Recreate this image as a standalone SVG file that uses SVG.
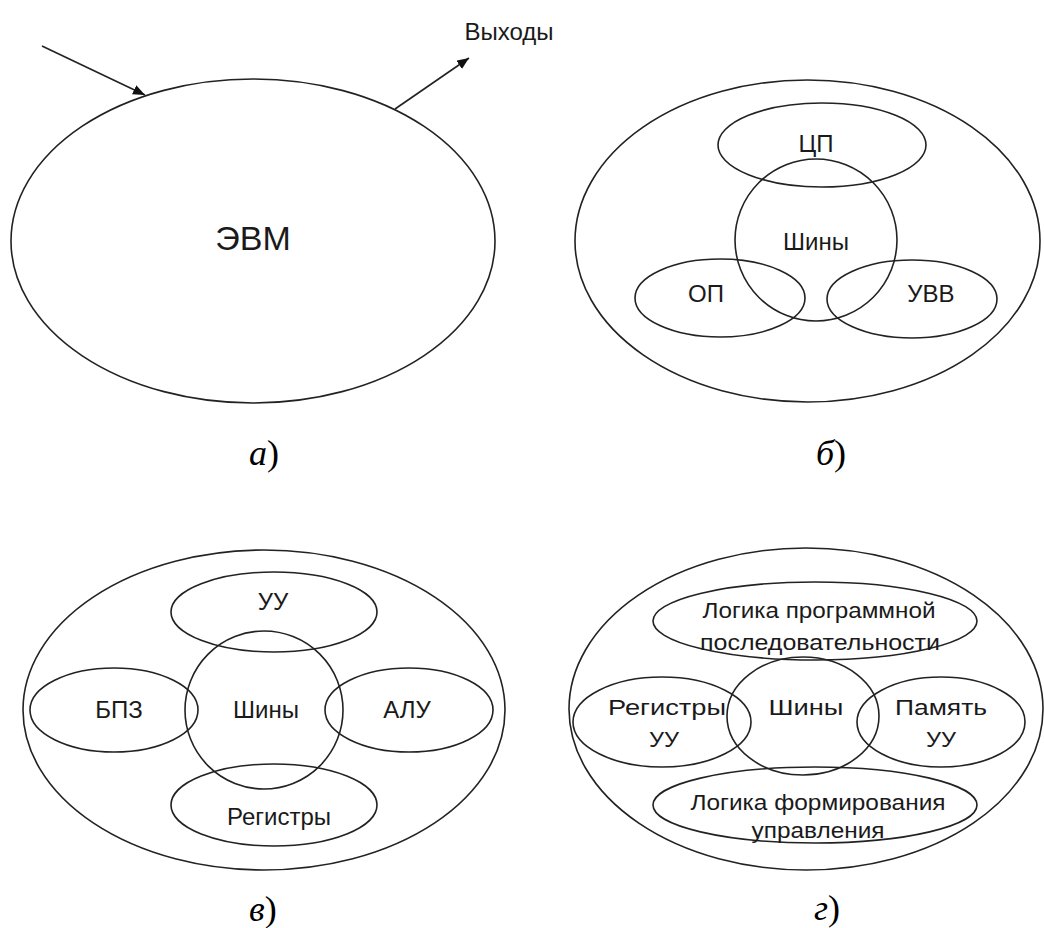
<svg xmlns="http://www.w3.org/2000/svg" width="1044" height="928" viewBox="0 0 1044 928">
<defs>
<style>
.sh{fill:none;stroke:#222;stroke-width:1.6}
.t{font-family:"Liberation Sans",Arial,sans-serif;font-size:24px;fill:#1a1a1a;text-anchor:middle}
.big{font-size:34px}
.s{font-size:22px}
.lbl{font-family:"Liberation Serif","Times New Roman",serif;font-size:36px;fill:#000}
.ln{stroke:#222;stroke-width:1.6;fill:none}
</style>
<marker id="ah" viewBox="0 0 12 10" refX="12" refY="5" markerWidth="12" markerHeight="10" markerUnits="userSpaceOnUse" orient="auto">
<path d="M0,0 L12,5 L0,10 z" fill="#111"/>
</marker>
</defs>
<rect width="1044" height="928" fill="#fff"/>

<g id="panel-a">
<g id="evm"><ellipse class="sh" cx="253" cy="241" rx="242" ry="162"/><text class="t big" x="253" y="250">ЭВМ</text></g>
<g id="outputs-label"><text class="t" x="509" y="40">Выходы</text></g>
<text class="lbl" x="249" y="465"><tspan font-style="italic">а</tspan>)</text>
</g>

<g id="connectors">
<line class="ln" x1="42" y1="46" x2="145" y2="95" marker-end="url(#ah)"/>
<line class="ln" x1="395" y1="109" x2="469" y2="58" marker-end="url(#ah)"/>
</g>

<g id="panel-b">
<g id="b-outer"><ellipse class="sh" cx="807.5" cy="241" rx="232.5" ry="161"/></g>
<g id="b-cp"><ellipse class="sh" cx="822" cy="145" rx="104" ry="42"/><text class="t" x="816" y="152">ЦП</text></g>
<g id="b-bus"><circle class="sh" cx="816" cy="240" r="81"/><text class="t" x="816" y="250">Шины</text></g>
<g id="b-op"><ellipse class="sh" cx="720" cy="298" rx="85" ry="39"/><text class="t" x="706" y="302">ОП</text></g>
<g id="b-uvv"><ellipse class="sh" cx="912" cy="299" rx="85" ry="39"/><text class="t" x="931" y="302">УВВ</text></g>
<text class="lbl" x="816" y="465"><tspan font-style="italic">б</tspan>)</text>
</g>

<g id="panel-v">
<g id="v-outer"><ellipse class="sh" cx="264" cy="710" rx="241" ry="160"/></g>
<g id="v-uu"><ellipse class="sh" cx="274" cy="612" rx="103" ry="40"/><text class="t" x="273" y="610">УУ</text></g>
<g id="v-bus"><circle class="sh" cx="264" cy="710" r="79"/><text class="t" x="266" y="718">Шины</text></g>
<g id="v-bpz"><ellipse class="sh" cx="114" cy="710" rx="84" ry="42"/><text class="t" x="119" y="718">БПЗ</text></g>
<g id="v-alu"><ellipse class="sh" cx="409" cy="710" rx="84" ry="42"/><text class="t" x="407" y="718">АЛУ</text></g>
<g id="v-reg"><ellipse class="sh" cx="274" cy="805" rx="103" ry="41"/><text class="t" x="279" y="825">Регистры</text></g>
<text class="lbl" x="249" y="921"><tspan font-style="italic">в</tspan>)</text>
</g>

<g id="panel-g">
<g id="g-outer"><ellipse class="sh" cx="806" cy="709" rx="237" ry="161"/></g>
<g id="g-top"><ellipse class="sh" cx="815" cy="621" rx="162" ry="39"/><text class="t s" x="819" y="618" textLength="233" lengthAdjust="spacingAndGlyphs">Логика программной</text><text class="t s" x="820" y="650" textLength="240" lengthAdjust="spacingAndGlyphs">последовательности</text></g>
<g id="g-bus"><ellipse class="sh" cx="803" cy="716" rx="76" ry="59"/><text class="t s" x="806" y="715" textLength="75" lengthAdjust="spacingAndGlyphs">Шины</text></g>
<g id="g-reg"><ellipse class="sh" cx="662" cy="722" rx="89" ry="45"/><text class="t s" x="667" y="715" textLength="118" lengthAdjust="spacingAndGlyphs">Регистры</text><text class="t s" x="664" y="747" textLength="30" lengthAdjust="spacingAndGlyphs">УУ</text></g>
<g id="g-mem"><ellipse class="sh" cx="941" cy="722" rx="84" ry="45"/><text class="t s" x="941" y="715" textLength="92" lengthAdjust="spacingAndGlyphs">Память</text><text class="t s" x="941" y="747" textLength="30" lengthAdjust="spacingAndGlyphs">УУ</text></g>
<g id="g-bottom"><ellipse class="sh" cx="815" cy="805" rx="162" ry="38"/><text class="t s" x="818" y="810" textLength="255" lengthAdjust="spacingAndGlyphs">Логика формирования</text><text class="t s" x="818" y="838" textLength="133" lengthAdjust="spacingAndGlyphs">управления</text></g>
<text class="lbl" x="814" y="920"><tspan font-style="italic">г</tspan>)</text>
</g>
</svg>
